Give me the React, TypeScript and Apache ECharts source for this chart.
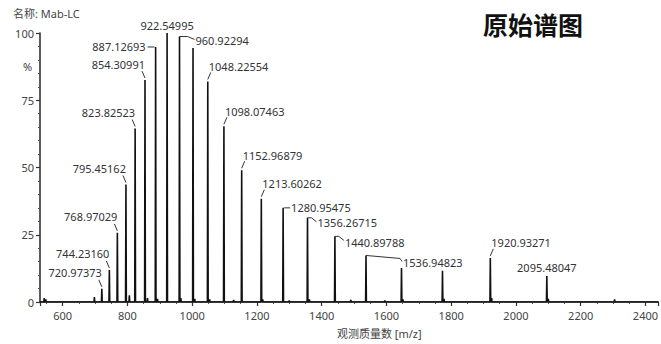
import React, { useEffect, useRef } from "react";
import * as echarts from "echarts";

// Main peaks (m/z, relative intensity %)
const PEAK_MZ = [
  720.97373, 744.2316, 768.97029, 795.45162, 823.82523, 854.30991, 887.12693,
  922.54995, 960.92294, 1002.66, 1048.22554, 1098.07463, 1152.96879, 1213.60262,
  1280.95475, 1356.26715, 1440.89788, 1536.94823, 1646.6, 1773.2, 1920.93271,
  2095.48047, 2304.8,
];
const PEAK_INT = [
  4.9, 11.9, 25.7, 43.7, 64.5, 82.5, 94.8, 100, 98.7, 94.4, 82, 65.3, 49, 38.4,
  35, 31.3, 24.4, 17.3, 12.6, 11.6, 16.4, 9.7, 1.0,
];

// Small baseline peaks
const MINOR_MZ = [
  543, 548, 698, 806, 862, 893, 965, 1008, 1054, 1128, 1218, 1300, 1362, 1490,
  1595, 1651, 1778, 1925, 2100,
];
const MINOR_INT = [
  1.5, 1.0, 1.8, 2.5, 1.5, 1.2, 1.5, 1.2, 1.0, 0.8, 1.0, 0.6, 1.0, 0.8, 0.6,
  1.0, 1.2, 1.5, 1.2,
];

// Annotated peaks
const LABEL_TEXT = [
  "720.97373", "744.23160", "768.97029", "795.45162", "823.82523", "854.30991",
  "887.12693", "922.54995", "960.92294", "1048.22554", "1098.07463",
  "1152.96879", "1213.60262", "1280.95475", "1356.26715", "1440.89788",
  "1536.94823", "1920.93271", "2095.48047",
];
const LABEL_INT = [
  4.9, 11.9, 25.7, 43.7, 64.5, 82.5, 94.8, 100, 98.7, 82, 65.3, 49, 38.4, 35,
  31.3, 24.4, 17.3, 16.4, 9.7,
];

const X_MIN = 530;
const X_MAX = 2440;
const Y_TICKS = [0, 25, 50, 75, 100];

// Label placement (pixel offsets from peak top) – layout only
type Lay = { ox: number; oy: number; align: string; leader: number[][] };
const UL: Lay = { ox: 0, oy: -16, align: "right", leader: [[0, -2], [-3, -9]] };
const UR: Lay = { ox: 1, oy: -15, align: "left", leader: [[0, -2], [3, -9]] };
const LABEL_LAYOUT: Lay[] = [
  UL, UL, UL, UL, UL, UL,
  { ox: -10, oy: 0, align: "right", leader: [[-1, 0], [-8, 0]] },
  { ox: 0, oy: -8, align: "center", leader: [] },
  { ox: 16, oy: 4, align: "left", leader: [[0, 0], [8, 0], [15, 3]] },
  UR, UR, UR, UR,
  { ox: 8, oy: 0, align: "left", leader: [[1, 0], [7, 0]] },
  { ox: 10, oy: 5, align: "left", leader: [[0, 0], [4, 0], [9, 4]] },
  { ox: 10, oy: 6, align: "left", leader: [[0, 0], [4, 0], [9, 4]] },
  { ox: 37, oy: 7, align: "left", leader: [[0, 0], [34, 3], [36, 6]] },
  UR,
  { ox: 0, oy: -8, align: "center", leader: [] },
];

const FONT = "'Noto Sans', 'Noto Sans CJK SC', sans-serif";
const HALF_W = 1.2;

function buildSpectrum(): number[][] {
  const peaks: number[][] = [];
  PEAK_MZ.forEach((m, i) => peaks.push([m, PEAK_INT[i]]));
  MINOR_MZ.forEach((m, i) => peaks.push([m, MINOR_INT[i]]));
  peaks.sort((a, b) => a[0] - b[0]);
  const pts: number[][] = [[X_MIN, 0]];
  peaks.forEach(([m, h]) => {
    pts.push([m - HALF_W, 0], [m, h], [m + HALF_W, 0]);
  });
  pts.push([X_MAX, 0]);
  return pts;
}

export default function App() {
  const ref = useRef<HTMLDivElement>(null);
  useEffect(() => {
    if (!ref.current) return;
    const chart = echarts.init(ref.current, undefined, { renderer: "svg" });
    const labelData = LABEL_TEXT.map((t, i) => [parseFloat(t), LABEL_INT[i]]);
    chart.setOption({
      animation: false,
      backgroundColor: "#ffffff",
      grid: { left: 40, right: 0, top: 33, bottom: 42 },
      xAxis: {
        type: "value",
        min: X_MIN,
        max: X_MAX,
        splitNumber: 10,
        axisLine: { show: true, onZero: false, lineStyle: { color: "#333", width: 1.6 } },
        axisTick: { show: true, length: 4, lineStyle: { color: "#333", width: 1.2 } },
        minorTick: { show: true, splitNumber: 4, length: 2, lineStyle: { color: "#555" } },
        splitLine: { show: false },
        axisLabel: {
          color: "#444",
          fontSize: 11,
          fontFamily: FONT,
          margin: 8,
          showMinLabel: false,
          showMaxLabel: false,
          formatter: (v: number) => String(v),
        },
      },
      yAxis: {
        type: "value",
        min: 0,
        max: 100,
        interval: 25,
        axisLine: { show: true, lineStyle: { color: "#333", width: 1.6 } },
        axisTick: { show: true, length: 4, lineStyle: { color: "#333", width: 1.2 } },
        minorTick: { show: true, splitNumber: 5, length: 2, lineStyle: { color: "#555" } },
        splitLine: { show: false },
        axisLabel: {
          color: "#444",
          fontSize: 11,
          fontFamily: FONT,
          margin: 6,
          formatter: (v: number) => (Y_TICKS.includes(v) ? String(v) : ""),
        },
      },
      graphic: [
        {
          type: "text",
          left: 13,
          top: 8,
          style: { text: "名称: Mab-LC", fill: "#444", fontSize: 11, fontFamily: FONT },
        },
        {
          type: "text",
          left: 23,
          top: 61,
          style: { text: "%", fill: "#444", fontSize: 11, fontFamily: FONT },
        },
        {
          type: "text",
          left: 483,
          top: 11,
          style: {
            text: "原始谱图",
            fill: "#111",
            fontSize: 25,
            fontWeight: "bold",
            fontFamily: "'Noto Sans CJK SC', sans-serif",
          },
        },
        {
          type: "text",
          left: 337,
          top: 328,
          style: { text: "观测质量数 [m/z]", fill: "#444", fontSize: 11, fontFamily: FONT },
        },
      ],
      series: [
        {
          type: "line",
          data: buildSpectrum(),
          showSymbol: false,
          symbol: "none",
          lineStyle: { color: "#111", width: 1.6 },
          z: 3,
        },
        {
          type: "custom",
          data: labelData,
          clip: false,
          z: 5,
          renderItem: (params: any, api: any) => {
            const i = params.dataIndex;
            const p = api.coord([api.value(0), api.value(1)]);
            const L = LABEL_LAYOUT[i];
            const children: any[] = [
              {
                type: "text",
                x: p[0] + L.ox,
                y: p[1] + L.oy,
                style: {
                  text: LABEL_TEXT[i],
                  fill: "#333",
                  fontSize: 11,
                  fontFamily: FONT,
                  align: L.align,
                  verticalAlign: "middle",
                },
              },
            ];
            if (L.leader.length > 1) {
              children.push({
                type: "polyline",
                shape: { points: L.leader.map(([a, b]) => [p[0] + a, p[1] + b]) },
                style: { stroke: "#333", lineWidth: 1, fill: "none" },
              });
            }
            return { type: "group", children };
          },
        },
      ],
    });
    return () => chart.dispose();
  }, []);
  return (
    <div
      ref={ref}
      style={{ position: "fixed", left: 0, top: 0, width: 661, height: 344 }}
    />
  );
}
